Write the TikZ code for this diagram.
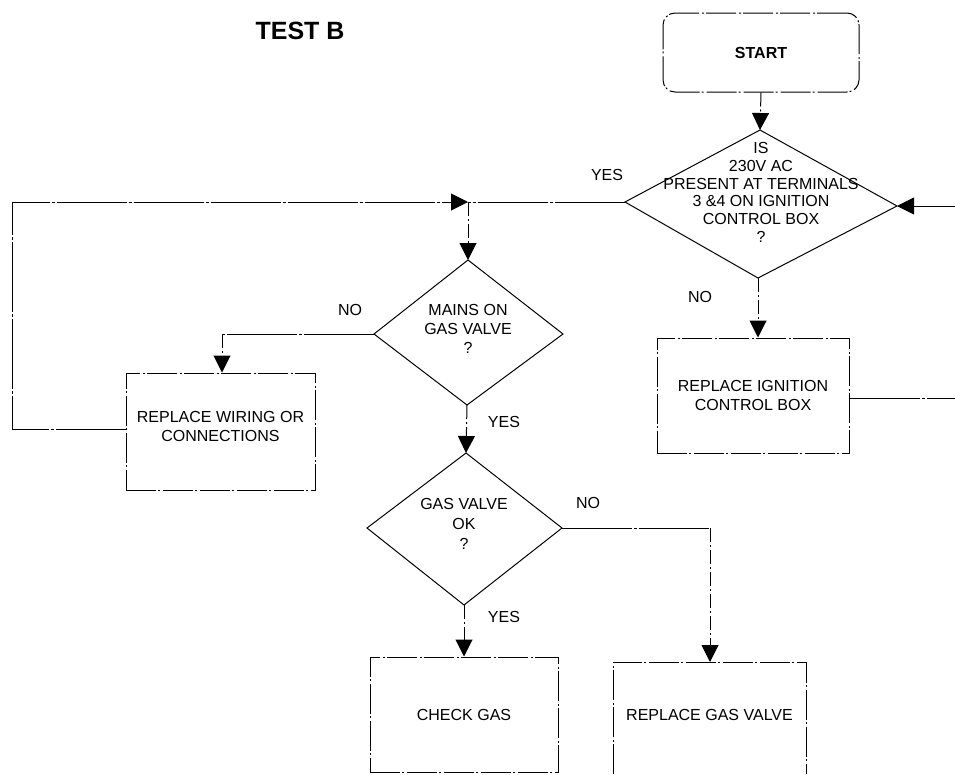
\documentclass[tikz,border=0pt]{standalone}
\usepackage{fontspec}
\setmainfont{Liberation Sans}
\usetikzlibrary{arrows.meta,calc}
\begin{document}
\begin{tikzpicture}[x=1pt,y=-1pt,
  txt/.style={font=\fontsize{16}{18.5}\selectfont, align=center, inner sep=0pt},
  lbl/.style={font=\fontsize{16}{18}\selectfont, inner sep=0pt},
  boxdash/.style={line width=1pt, dash pattern=on 30pt off 2pt on 2pt off 3pt},
  dia/.style={line width=1pt},
  conn/.style={line width=1pt, dash pattern=on 14pt off 3pt on 2pt off 3pt},
  hconn/.style={line width=1pt, dash pattern=on 70pt off 2pt on 3pt off 2pt},
  arr/.style={-{Triangle[length=17pt,width=17pt]}},
  procbox/.style={draw, boxdash, rectangle, txt}
]
\useasboundingbox (0,0) rectangle (955,774);

% title
\node[font=\fontsize{25}{28}\selectfont\bfseries, inner sep=0pt] (title) at (300,31) {TEST B};

% start
\node[procbox, rounded corners=12pt, minimum width=196pt, minimum height=79pt,
      font=\fontsize{16}{18}\selectfont\bfseries] (start) at (761,52.5) {START};

% diamond 1
\coordinate (d1t) at (760,130);
\coordinate (d1l) at (625,202);
\coordinate (d1r) at (897,206);
\coordinate (d1b) at (758,278);
\draw[dia] (d1t) -- (d1r) -- (d1b) -- (d1l) -- cycle;
\node[txt, font=\fontsize{16}{17.8}\selectfont] (d1txt) at (761,192.5)
  {IS\\230V AC\\PRESENT AT TERMINALS\\3 \&4 ON IGNITION\\CONTROL BOX\\?};

% diamond 2
\coordinate (d2t) at (468,260);
\coordinate (d2l) at (374,334);
\coordinate (d2r) at (563,334);
\coordinate (d2b) at (467,405);
\draw[dia] (d2t) -- (d2r) -- (d2b) -- (d2l) -- cycle;
\node[txt, font=\fontsize{16}{19}\selectfont] (d2txt) at (468,329) {MAINS ON\\GAS VALVE\\?};

% diamond 3
\coordinate (d3t) at (466,453);
\coordinate (d3l) at (367,528);
\coordinate (d3r) at (562,528);
\coordinate (d3b) at (464,605);
\draw[dia] (d3t) -- (d3r) -- (d3b) -- (d3l) -- cycle;
\node[txt, font=\fontsize{16}{20}\selectfont] (d3txt) at (464,524) {GAS VALVE\\OK\\?};

% process boxes
\node[procbox, minimum width=192pt, minimum height=115pt] (repign) at (753,395.5)
  {REPLACE IGNITION\\CONTROL BOX};
\node[procbox, minimum width=189pt, minimum height=117pt, text depth=10pt] (repwire) at (220.5,431.5)
  {REPLACE WIRING OR\\CONNECTIONS};
\node[procbox, minimum width=188pt, minimum height=115pt] (checkgas) at (464,714.5)
  {CHECK GAS};
% replace gas valve box (bottom edge outside the picture)
\coordinate (gvtl) at (613,662);
\coordinate (gvtr) at (806,662);
\coordinate (gvbl) at (613,774);
\coordinate (gvbr) at (806,774);
\draw[boxdash] (gvbl) -- (gvtl) -- (gvtr) -- (gvbr);
\node[txt] (repgv) at (709.5,715) {REPLACE GAS VALVE};
\coordinate (gvtop) at (710,662);

% helper coordinates
\coordinate (j) at (468,202);
\coordinate (lc1) at (12,429);
\coordinate (lc2) at (12,202);
\coordinate (re1) at (955,398);
\coordinate (re2) at (955,206);
\coordinate (nw) at (222,334);

% connectors
\draw[conn, arr] (start.south) -- (d1t);
\draw[hconn] (d1l) -- (j);
\draw[conn, arr] (j) -- (d2t);
\draw[hconn, arr] (repwire.west |- lc1) -- (lc1) -- (lc2) -- (j);
\draw[hconn] (d2l) -- (nw);
\draw[conn, arr] (nw) -- (nw |- repwire.north);
\draw[conn, arr] (d2b) -- (d3t);
\draw[conn, arr] (d3b) -- (d3b |- checkgas.north);
\draw[hconn] (d3r) -- (d3r -| gvtop);
\draw[conn, arr] (d3r -| gvtop) -- (gvtop);
\draw[conn, arr] (d1b) -- (d1b |- repign.north);
\draw[hconn] (repign.east |- re1) -- (re1);
\draw[hconn, arr] (re2) -- (d1r);

% labels
\node[lbl] (yes1) at (607,175) {YES};
\node[lbl] (no1) at (700,297) {NO};
\node[lbl] (no2) at (350,310) {NO};
\node[lbl] (yes2) at (504,422) {YES};
\node[lbl] (no3) at (588,503) {NO};
\node[lbl] (yes3) at (504,617) {YES};
\end{tikzpicture}
\end{document}
